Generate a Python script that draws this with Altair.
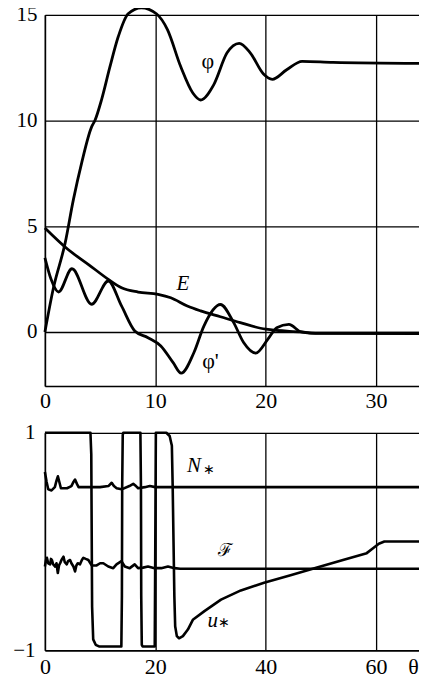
import altair as alt
import pandas as pd

# ---------------- top panel data ----------------
phi_x = [0, 0.78, 1.83, 2.58, 3.33, 4.23, 4.53, 5.14, 5.87, 6.64, 7.54, 8.74, 10.1, 11.1, 12.3, 13.4, 14.1,
         15.3, 16.5, 17.6, 18.6, 19.8, 20.6, 21.9, 23.3, 26.1, 34.7]
phi_y = [0, 2.1, 4.2, 6.26, 8.0, 9.7, 10.0, 11.0, 12.5, 13.96, 15.05, 15.33, 15.05, 14.3, 12.55, 11.3, 10.97,
         11.7, 13.2, 13.65, 13.2, 12.2, 11.95, 12.4, 12.8, 12.75, 12.7]

E_x = [0, 2.1, 3.95, 5.74, 6.94, 8.44, 10.25, 11.4, 12.9, 14.1, 15.9, 17.7, 20.0, 23.2, 25.0, 34.7]
E_y = [4.92, 3.9, 3.19, 2.49, 2.09, 1.89, 1.78, 1.62, 1.23, 1.0, 0.72, 0.44, 0.13, 0.0, -0.07, -0.08]

dphi_x = [0, 0.55, 1.23, 2.45, 4.23, 5.74, 6.94, 8.14, 9.34, 10.5, 11.6, 12.34, 13.5, 14.4, 15.9, 17.1,
          18.0, 19.1, 20.2, 21.0, 22.1, 23.2, 24.0, 34.7]
dphi_y = [3.5, 2.5, 1.89, 2.99, 1.31, 2.41, 1.23, 0.05, -0.27, -0.66, -1.44, -1.95, -0.97, 0.28, 1.3, 0.44,
          -0.5, -1.0, -0.34, 0.2, 0.36, 0.0, -0.05, -0.05]

top_lab_normal = ["φ", "φ'"]
top_lab_normal_x = [14.75, 15.0]
top_lab_normal_y = [12.83, -1.38]
top_lab_italic = ["E"]
top_lab_italic_x = [12.5]
top_lab_italic_y = [2.25]

top_x_ticks = [0, 10, 20, 30]
top_y_ticks = [0, 5, 10, 15]

# ---------------- bottom panel data ----------------
u_x = [0, 8.25, 8.4, 8.55, 8.75, 9.2, 9.8, 13.85, 13.95, 14.0, 14.1, 14.2, 17.3, 17.4, 17.45, 17.55, 17.7,
       19.9, 20.0, 20.1, 22.0, 22.6, 23.0, 23.15, 23.3, 23.45, 23.6, 23.9, 24.3, 25.0, 25.9, 26.8, 28.9,
       31.9, 35.5, 39.7, 44.5, 49.3, 54.0, 58.3, 59.5, 60.5, 61.5, 69.4]
u_y = [1, 1, 0.8, -0.6, -0.9, -0.95, -0.965, -0.965, -0.5, 0.5, 0.98, 1, 1, 0.5, -0.5, -0.95, -0.965,
       -0.965, 0, 1, 1, 0.97, 0.88, 0.5, 0, -0.5, -0.78, -0.87, -0.89, -0.87, -0.81, -0.72, -0.64,
       -0.535, -0.45, -0.38, -0.31, -0.24, -0.17, -0.107, -0.06, -0.02, 0, 0]

N_x = [0, 0.3, 0.6, 1.2, 1.8, 2.1, 2.35, 2.6, 2.9, 4.0, 4.8, 5.2, 5.46, 5.8, 6.1, 8, 10, 11.5, 12.1, 12.5,
       13.0, 13.9, 15.3, 16.0, 16.5, 16.9, 18.1, 19.0, 20.0, 22.0, 69.4]
N_y = [0.64, 0.55, 0.48, 0.47, 0.5, 0.56, 0.6, 0.55, 0.49, 0.49, 0.51, 0.55, 0.57, 0.53, 0.5, 0.5, 0.5, 0.51,
       0.54, 0.51, 0.49, 0.48, 0.51, 0.53, 0.51, 0.49, 0.5, 0.51, 0.5, 0.5, 0.5]

F_x = [0, 0.2, 0.36, 0.6, 0.95, 1.1, 1.26, 1.5, 1.86, 2.1, 2.34, 2.55, 2.76, 3.0, 3.37, 3.6, 3.96, 4.2, 4.56,
       4.8, 5.17, 5.46, 5.7, 5.95, 6.36, 6.7, 6.97, 7.4, 7.87, 8.47, 9.37, 10.0, 10.58, 11.48, 12.38, 12.97,
       13.87, 14.47, 15.37, 16.27, 16.88, 17.78, 18.68, 19.87, 21.08, 22.29, 23.48, 24.5, 69.4]
F_y = [-0.23, -0.17, -0.15, -0.2, -0.21, -0.16, -0.17, -0.21, -0.23, -0.2, -0.29, -0.22, -0.2, -0.17, -0.14,
       -0.19, -0.21, -0.18, -0.17, -0.2, -0.23, -0.275, -0.22, -0.2, -0.21, -0.17, -0.15, -0.16, -0.17, -0.22,
       -0.22, -0.2, -0.2, -0.23, -0.245, -0.21, -0.18, -0.23, -0.245, -0.21, -0.245, -0.24, -0.23, -0.245,
       -0.245, -0.23, -0.245, -0.25, -0.25]

bot_lab_italic = ["N", "u"]
bot_lab_italic_x = [27.0, 30.4]
bot_lab_italic_y = [0.69, -0.73]
bot_lab_star = ["∗", "∗"]
bot_lab_star_x = [29.7, 32.5]
bot_lab_star_y = [0.655, -0.75]
bot_lab_script = ["ℱ"]
bot_lab_script_x = [32.8]
bot_lab_script_y = [-0.085]

bot_x_ticks = [0, 20, 40, 60]
bot_y_ticks = [-1, 0, 1]

FONT = "Liberation Serif, Times New Roman, serif"
W = 384


def series_df(pairs):
    rows = []
    for name, xs, ys in pairs:
        for i, (a, b) in enumerate(zip(xs, ys)):
            rows.append({"s": name, "i": i, "x": a, "y": b})
    return pd.DataFrame(rows)


def label_df(texts, xs, ys):
    return pd.DataFrame({"t": texts, "x": xs, "y": ys})


def axis_x(values, pad, title=None, **kw):
    return alt.Axis(values=values, grid=True, ticks=False, labelPadding=pad, labelFlush=False,
                    labelOverlap=False, labelFont=FONT, labelFontSize=22, labelColor="black",
                    domainColor="black", domainWidth=1.5, gridColor="black", gridWidth=1.3,
                    gridOpacity=1, title=title, format="d", **kw)


def axis_y(values, pad):
    return alt.Axis(values=values, grid=True, ticks=False, labelPadding=pad, labelOverlap=False,
                    labelFont=FONT, labelFontSize=21, labelColor="black", domainColor="black",
                    domainWidth=1.5, gridColor="black", gridWidth=1.3, gridOpacity=1, title=None,
                    format="d")


def text_layer(df, xscale, yscale, size, style):
    return alt.Chart(df).mark_text(font=FONT, fontSize=size, fontStyle=style, color="black",
                                   clip=False).encode(
        x=alt.X("x:Q", scale=xscale), y=alt.Y("y:Q", scale=yscale), text="t:N")


# ---------------- top chart ----------------
top_df = series_df([("phi", phi_x, phi_y), ("E", E_x, E_y), ("dphi", dphi_x, dphi_y)])
tx = alt.Scale(domain=[0, 34.7], nice=False, zero=False)
ty = alt.Scale(domain=[-2.55, 15], nice=False, zero=False)

top_lines = alt.Chart(top_df).mark_line(color="black", strokeWidth=2.8, interpolate="monotone",
                                        strokeJoin="round", clip=False).encode(
    x=alt.X("x:Q", scale=tx, axis=axis_x(top_x_ticks, 5)),
    y=alt.Y("y:Q", scale=ty, axis=axis_y(top_y_ticks, 8)),
    detail="s:N", order="i:Q")

top = alt.layer(
    top_lines,
    text_layer(label_df(top_lab_normal, top_lab_normal_x, top_lab_normal_y), tx, ty, 22, "normal"),
    text_layer(label_df(top_lab_italic, top_lab_italic_x, top_lab_italic_y), tx, ty, 21, "italic"),
).properties(width=W, height=372)

# ---------------- bottom chart ----------------
bot_df = series_df([("u", u_x, u_y), ("N", N_x, N_y), ("F", F_x, F_y)])
bx = alt.Scale(domain=[0, 69.4], nice=False, zero=False)
by = alt.Scale(domain=[-1, 1], nice=False, zero=False)

bot_lines = alt.Chart(bot_df).mark_line(color="black", strokeWidth=2.6, interpolate="linear",
                                        strokeJoin="round", clip=False).encode(
    x=alt.X("x:Q", scale=bx, axis=axis_x(bot_x_ticks, 6.5, title="θ", titleFont=FONT, titleFontSize=22,
                                          titleFontWeight="normal", titleColor="black", titleX=369,
                                          titleY=6.5, titleBaseline="top", titleAlign="center")),
    y=alt.Y("y:Q", scale=by, axis=axis_y(bot_y_ticks, 10)),
    detail="s:N", order="i:Q")

bottom = alt.layer(
    bot_lines,
    text_layer(label_df(bot_lab_italic, bot_lab_italic_x, bot_lab_italic_y), bx, by, 21, "italic"),
    text_layer(label_df(bot_lab_star, bot_lab_star_x, bot_lab_star_y), bx, by, 14, "normal"),
    text_layer(label_df(bot_lab_script, bot_lab_script_x, bot_lab_script_y), bx, by, 18, "normal"),
).properties(width=W, height=218)

chart = alt.vconcat(top, bottom, spacing=8).properties(
    padding={"left": 4, "top": -6, "right": -11, "bottom": -4.5}
).configure_view(strokeWidth=0).configure(background="white")

chart.save("out.html", embed_options={"renderer": "svg", "actions": False})
